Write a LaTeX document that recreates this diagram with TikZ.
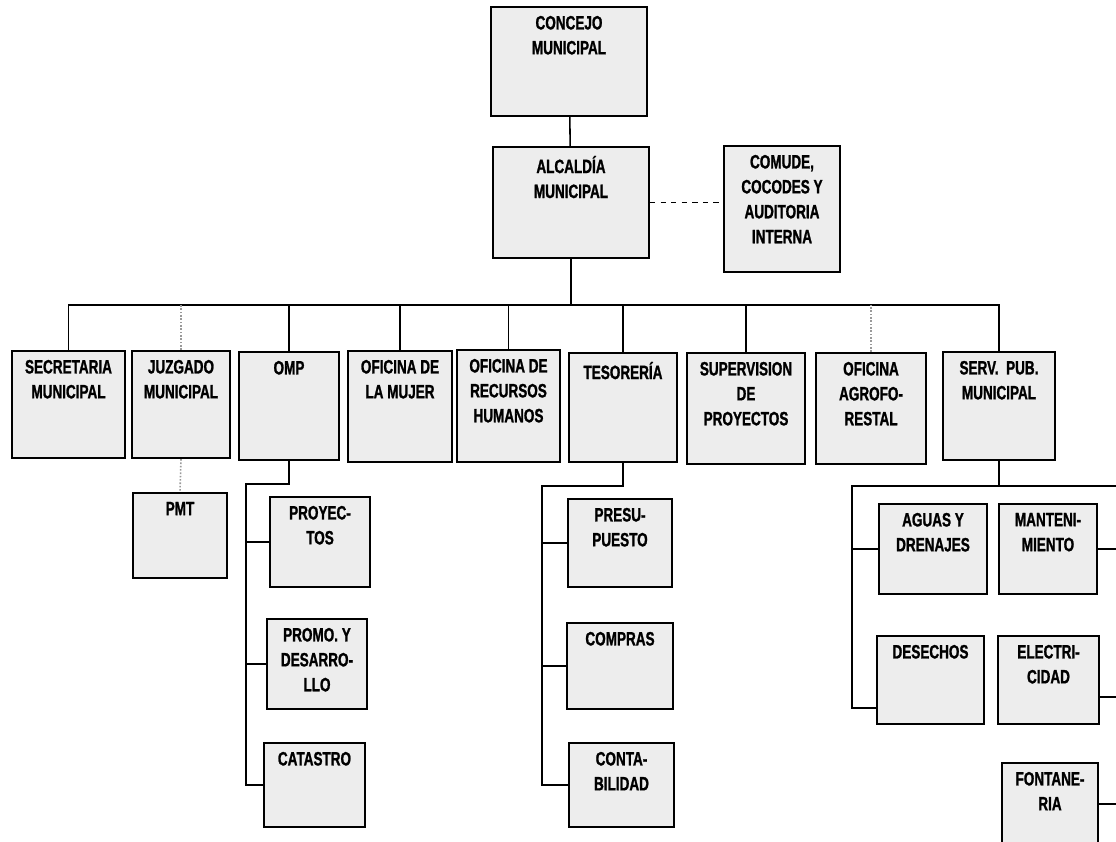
\documentclass[tikz,border=0pt]{standalone}
\usepackage{fontspec}
\setmainfont{Liberation Sans}[FakeStretch=0.7, FakeBold=1.2]
\usepackage{xcolor}
\usepackage{tikz}
\definecolor{paper}{gray}{0.93}

\begin{document}
\begin{tikzpicture}[x=0.02cm, y=-0.02cm,
    office/.style={rectangle, draw, line width=1.25pt, fill=paper},
    tag/.style={anchor=north, align=center, inner xsep=1pt, inner ysep=5.5pt, font=\bfseries\fontsize{11}{14.2}\selectfont},
    link/.style={line width=0.9pt},
    faint/.style={line width=0.9pt, draw=black!40, densely dotted}]
    \useasboundingbox (0,0) rectangle (1116,842);
    \clip (0,0) rectangle (1116,842);
    \fill[white] (0,0) rectangle (1116,842);

    % top
    \node[office, minimum width=3.12cm, minimum height=2.18cm, label={[tag]north:{CONCEJO\\MUNICIPAL}}] (concejo) at (569,61.5) {};
    \node[office, minimum width=3.12cm, minimum height=2.22cm, label={[tag]north:{ALCALDÍA\\MUNICIPAL}}] (alcaldia) at (571,202.5) {};
    \node[office, minimum width=2.32cm, minimum height=2.52cm, label={[tag]north:{COMUDE,\\COCODES Y\\AUDITORIA\\INTERNA}}] (comude) at (782,209) {};

    % first row
    \node[office, minimum width=2.26cm, minimum height=2.14cm, label={[tag]north:{SECRETARIA\\MUNICIPAL}}] (secretaria) at (68.5,404.5) {};
    \node[office, minimum width=1.96cm, minimum height=2.14cm, label={[tag]north:{JUZGADO\\MUNICIPAL}}] (juzgado) at (181,404.5) {};
    \node[office, minimum width=2.00cm, minimum height=2.16cm, label={[tag]north:{OMP}}] (omp) at (289,406) {};
    \node[office, minimum width=2.08cm, minimum height=2.22cm, label={[tag]north:{OFICINA DE\\LA MUJER}}] (mujer) at (400,406.5) {};
    \node[office, minimum width=2.06cm, minimum height=2.24cm, label={[tag]north:{OFICINA DE\\RECURSOS\\HUMANOS}}] (rrhh) at (508.5,406) {};
    \node[office, minimum width=2.16cm, minimum height=2.18cm, label={[tag]north:{TESORERÍA}}] (tesoreria) at (623,407.5) {};
    \node[office, minimum width=2.36cm, minimum height=2.22cm, label={[tag]north:{SUPERVISION\\DE\\PROYECTOS}}] (supervision) at (746,408.5) {};
    \node[office, minimum width=2.20cm, minimum height=2.22cm, label={[tag]north:{OFICINA\\AGROFO-\\RESTAL}}] (agro) at (871,408.5) {};
    \node[office, minimum width=2.24cm, minimum height=2.16cm, label={[tag]north:{SERV. \ PUB.\\MUNICIPAL}}] (serv) at (999,406) {};

    % second level
    \node[office, minimum width=1.88cm, minimum height=1.70cm, label={[tag]north:{PMT}}] (pmt) at (180,535.5) {};
    \node[office, minimum width=2.00cm, minimum height=1.80cm, label={[tag]north:{PROYEC-\\TOS}}] (proyectos) at (320,542) {};
    \node[office, minimum width=2.00cm, minimum height=1.80cm, label={[tag]north:{PROMO. Y\\DESARRO-\\LLO}}] (promo) at (317,664) {};
    \node[office, minimum width=2.02cm, minimum height=1.68cm, label={[tag]north:{CATASTRO}}] (catastro) at (314.5,785) {};
    \node[office, minimum width=2.08cm, minimum height=1.76cm, label={[tag]north:{PRESU-\\PUESTO}}] (presupuesto) at (620,543) {};
    \node[office, minimum width=2.12cm, minimum height=1.72cm, label={[tag]north:{COMPRAS}}] (compras) at (620,666) {};
    \node[office, minimum width=2.10cm, minimum height=1.68cm, label={[tag]north:{CONTA-\\BILIDAD}}] (contabilidad) at (621.5,785) {};
    \node[office, minimum width=2.16cm, minimum height=1.80cm, label={[tag]north:{AGUAS Y\\DRENAJES}}] (aguas) at (933,549) {};
    \node[office, minimum width=1.96cm, minimum height=1.80cm, label={[tag]north:{MANTENI-\\MIENTO}}] (manten) at (1048,549) {};
    \node[office, minimum width=2.14cm, minimum height=1.76cm, label={[tag]north:{DESECHOS}}] (desechos) at (930.5,680) {};
    \node[office, minimum width=2.02cm, minimum height=1.76cm, label={[tag]north:{ELECTRI-\\CIDAD}}] (electricidad) at (1048.5,680) {};
    \node[office, minimum width=1.92cm, minimum height=2.14cm, label={[tag]north:{FONTANE-\\RIA}}] (fontaneria) at (1050,816.5) {};

    % connectors
    \coordinate (bus) at (567,305);
    \coordinate (ompbus) at (246,484);
    \coordinate (tesbus) at (542,486);
    \coordinate (servbus) at (852,486);
    \coordinate (servend) at (852,708);
    \coordinate (edge) at (1116,486);
    \coordinate (e1) at (1116,697);
    \coordinate (e2) at (1116,804);

    \draw[link] (concejo) -- (alcaldia);
    \draw[link, dashed] (alcaldia.east) -- (alcaldia.east -| comude.west);
    \draw[link] (alcaldia.south) -- (alcaldia.south |- bus);
    \draw[link] (secretaria.north) |- (bus) -| (serv.north);
    \draw[faint] (juzgado.north) -- (juzgado.north |- bus);
    \draw[link] (omp.north) -- (omp.north |- bus);
    \draw[link] (mujer.north) -- (mujer.north |- bus);
    \draw[link] (rrhh.north) -- (rrhh.north |- bus);
    \draw[link] (tesoreria.north) -- (tesoreria.north |- bus);
    \draw[link] (supervision.north) -- (supervision.north |- bus);
    \draw[faint] (agro.north) -- (agro.north |- bus);

    \draw[faint] (juzgado.south) -- (pmt.north);

    \draw[link] (omp.south) |- (ompbus) -- (ompbus |- catastro.west) -- (catastro.west);
    \draw[link] (ompbus |- proyectos.west) -- (proyectos.west);
    \draw[link] (ompbus |- promo.west) -- (promo.west);

    \draw[link] (tesoreria.south) |- (tesbus) -- (tesbus |- contabilidad.west) -- (contabilidad.west);
    \draw[link] (tesbus |- presupuesto.west) -- (presupuesto.west);
    \draw[link] (tesbus |- compras.west) -- (compras.west);

    \draw[link] (serv.south) -- (serv.south |- servbus);
    \draw[link] (edge) -- (servbus) -- (servend) -- (servend -| desechos.west);
    \draw[link] (servbus |- aguas.west) -- (aguas.west);
    \draw[link] (manten.east) -- (manten.east -| edge);
    \draw[link] (electricidad.east |- e1) -- (e1);
    \draw[link] (fontaneria.east |- e2) -- (e2);
\end{tikzpicture}
\end{document}
